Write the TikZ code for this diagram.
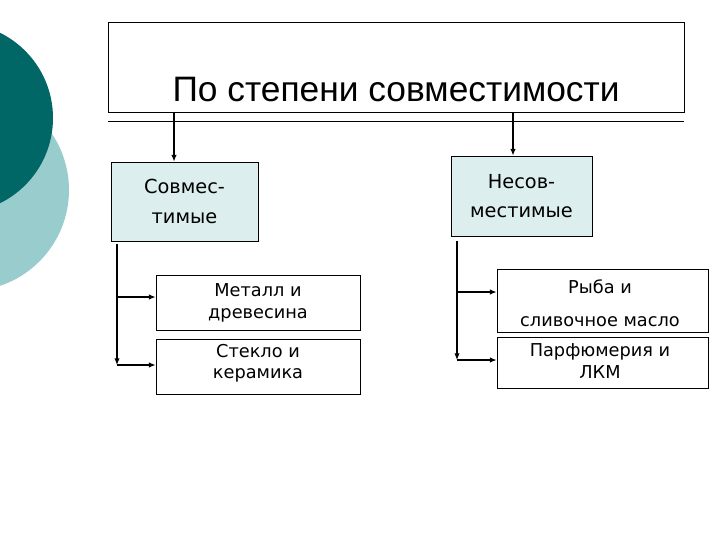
\documentclass[tikz,border=0pt]{standalone}
\usepackage{fontspec}
\setmainfont{DejaVu Sans}
\newfontfamily\titlefont{Liberation Sans}
\definecolor{dteal}{HTML}{006666}
\definecolor{lteal}{HTML}{99CCCC}
\definecolor{boxfill}{HTML}{DDEEEE}
\tikzset{px/.style={x=0.75pt,y=-0.75pt},
 bx/.style={draw,line width=0.6pt},
 tx/.style={font=\fontsize{14.5}{17}\selectfont,align=center,inner sep=0pt},
 sx/.style={font=\fontsize{13.3}{16}\selectfont,align=center,inner sep=0pt},
 arr/.style={-{Latex[length=5pt,width=4pt]},line width=0.8pt}}
\usetikzlibrary{arrows.meta}
\begin{document}
\begin{tikzpicture}[px]
\useasboundingbox (0,0) rectangle (720,540);
\fill[lteal] (-32,190) circle (101);
\fill[dteal] (-42,118) circle (95);
\draw[bx] (108,22) rectangle (684,112);
\draw[line width=0.6pt] (108,121) -- (684,121);
\node[inner sep=0pt,font=\titlefont\fontsize{26.5}{30}\selectfont] (title) at (396,90) {По степени совместимости};
\node[bx,fill=boxfill,minimum width=110.25pt,minimum height=59.25pt,tx] (s) at (184.5,201.5) {Совмес-\\[5pt]тимые};
\node[bx,fill=boxfill,minimum width=105.75pt,minimum height=60pt,tx] (n) at (521.5,196) {Несов-\\[5pt]местимые};
\node[bx,minimum width=153pt,minimum height=41.25pt] (m) at (258,302.5) {};
\node[sx] at (258,303) {Металл и\\древесина};
\node[bx,minimum width=153pt,minimum height=41.25pt] (c) at (258,366.5) {};
\node[sx] at (258,363) {Стекло и\\керамика};
\node[bx,minimum width=158.25pt,minimum height=47.25pt] (r) at (602.5,300.5) {};
\node[bx,minimum width=158.25pt,minimum height=38.25pt] (p) at (602.5,362.5) {};
\node[sx] at (600,287) {Рыба и};
\node[sx] at (600,322) {сливочное масло};
\node[sx] at (600,361) {Парфюмерия и\\ЛКМ};
\coordinate (t1) at (174,112); \coordinate (t2) at (513,112);
\draw[arr] (t1) -- (t1 |- s.north);
\draw[arr] (t2) -- (t2 |- n.north);
\coordinate (a0) at (117,244); \coordinate (a1) at (117,365);
\draw[arr] (a0) -- (a1);
\draw[arr] (117,297) -- (117,297 -| m.west);
\draw[arr] (a1) -- (a1 -| c.west);
\coordinate (b0) at (457,241); \coordinate (b1) at (457,360);
\draw[arr] (b0) -- (b1);
\draw[arr] (457,292) -- (457,292 -| r.west);
\draw[arr] (b1) -- (b1 -| p.west);
\end{tikzpicture}
\end{document}
